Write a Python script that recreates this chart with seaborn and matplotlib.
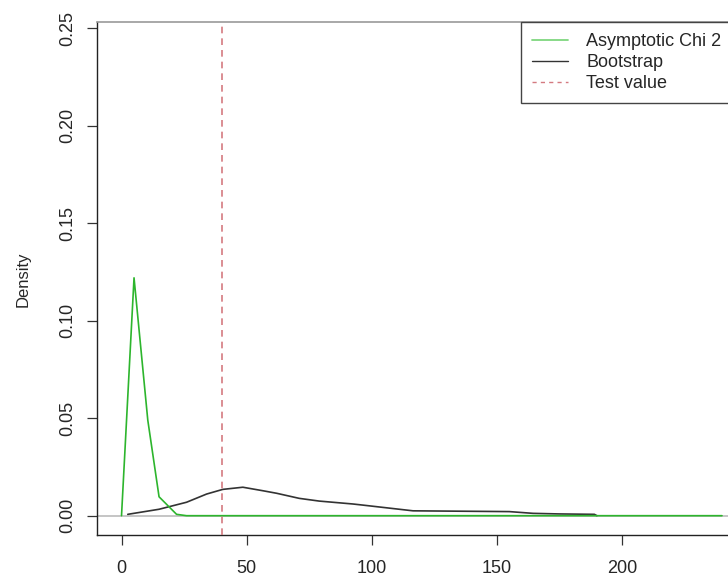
import matplotlib
matplotlib.use('Agg')
import matplotlib.pyplot as plt
import seaborn as sns
from matplotlib.lines import Line2D

# values
chi_x = [0, 5, 10.5, 15, 22, 26, 240]
chi_y = [0, 0.122, 0.049, 0.0097, 0.0007, 0, 0]

boot_x = [2.5, 15, 26, 34, 40.5, 48.5, 56.5, 62, 71, 79, 92.5, 96, 116.5,
          155, 164.5, 175, 189, 190]
boot_y = [0.0007, 0.0033, 0.0069, 0.0111, 0.0135, 0.0146, 0.0128, 0.0115,
          0.0089, 0.0075, 0.006, 0.0055, 0.0025, 0.0021, 0.0012, 0.0009,
          0.0007, 0]

test_value = 40
x_ticks = [0, 50, 100, 150, 200]
y_ticks = [0.00, 0.05, 0.10, 0.15, 0.20, 0.25]
legend_labels = ['Asymptotic Chi 2', 'Bootstrap', 'Test value']

green = '#2DB52D'
black = '#333333'
red = '#D47A80'

sns.set_style('white')
plt.rcParams['font.family'] = ['Liberation Sans', 'DejaVu Sans']

fig = plt.figure(figsize=(7.28, 5.78), dpi=100)
W, H = 728, 578
# axes box in pixels: left 97, right ~746 (cropped), top 22, bottom 535
ax = fig.add_axes([97 / W, (H - 535) / H, (746 - 97) / W, (535 - 22) / H])

ax.axhline(0, color='#BBBBBB', lw=1.2, zorder=1)
sns.lineplot(x=chi_x, y=chi_y, ax=ax, color=green, lw=1.2, zorder=3,
             estimator=None, sort=False)
sns.lineplot(x=boot_x, y=boot_y, ax=ax, color=black, lw=1.2, zorder=2,
             estimator=None, sort=False)
ax.axvline(test_value, color=red, lw=1.2, ls=(0, (4, 3)), zorder=4)

ax.set_xlim(-9.8, 249.6)
ax.set_ylim(-0.0099, 0.2532)
ax.set_xticks(x_ticks)
ax.set_xticklabels([str(t) for t in x_ticks], fontsize=13)
ax.set_yticks(y_ticks)
ax.set_yticklabels(['%.2f' % t for t in y_ticks], fontsize=13,
                   rotation=90, va='center')
ax.tick_params(axis='both', direction='out', length=7, width=0.9,
               color='#333333', left=True, bottom=True)
ax.tick_params(axis='y', pad=8)
ax.tick_params(axis='x', pad=11)

ax.set_ylabel('Density', fontsize=12)
ax.yaxis.set_label_coords((31 - 97) / (746 - 97), (535 - 279) / (535 - 22))
ax.set_xlabel('')

for side in ['left', 'bottom', 'right']:
    ax.spines[side].set_color('#222222')
    ax.spines[side].set_linewidth(1.0)
ax.spines['top'].set_color('#999999')
ax.spines['top'].set_linewidth(1.2)

handles = [Line2D([], [], color='#7FD77F', lw=1.3),
           Line2D([], [], color=black, lw=1.0),
           Line2D([], [], color=red, lw=1.0, ls=(0, (3, 3)))]
leg = ax.legend(handles, legend_labels, loc='upper left',
                bbox_to_anchor=(521 / W, (H - 22) / H),
                bbox_transform=fig.transFigure, borderaxespad=0,
                fontsize=13, frameon=True, fancybox=False, framealpha=1,
                handlelength=2.0, handletextpad=1.0, labelspacing=0.22,
                borderpad=0.62)
leg.get_frame().set_edgecolor('#444444')
leg.get_frame().set_linewidth(1.0)

fig.savefig('out.png', dpi=100)
